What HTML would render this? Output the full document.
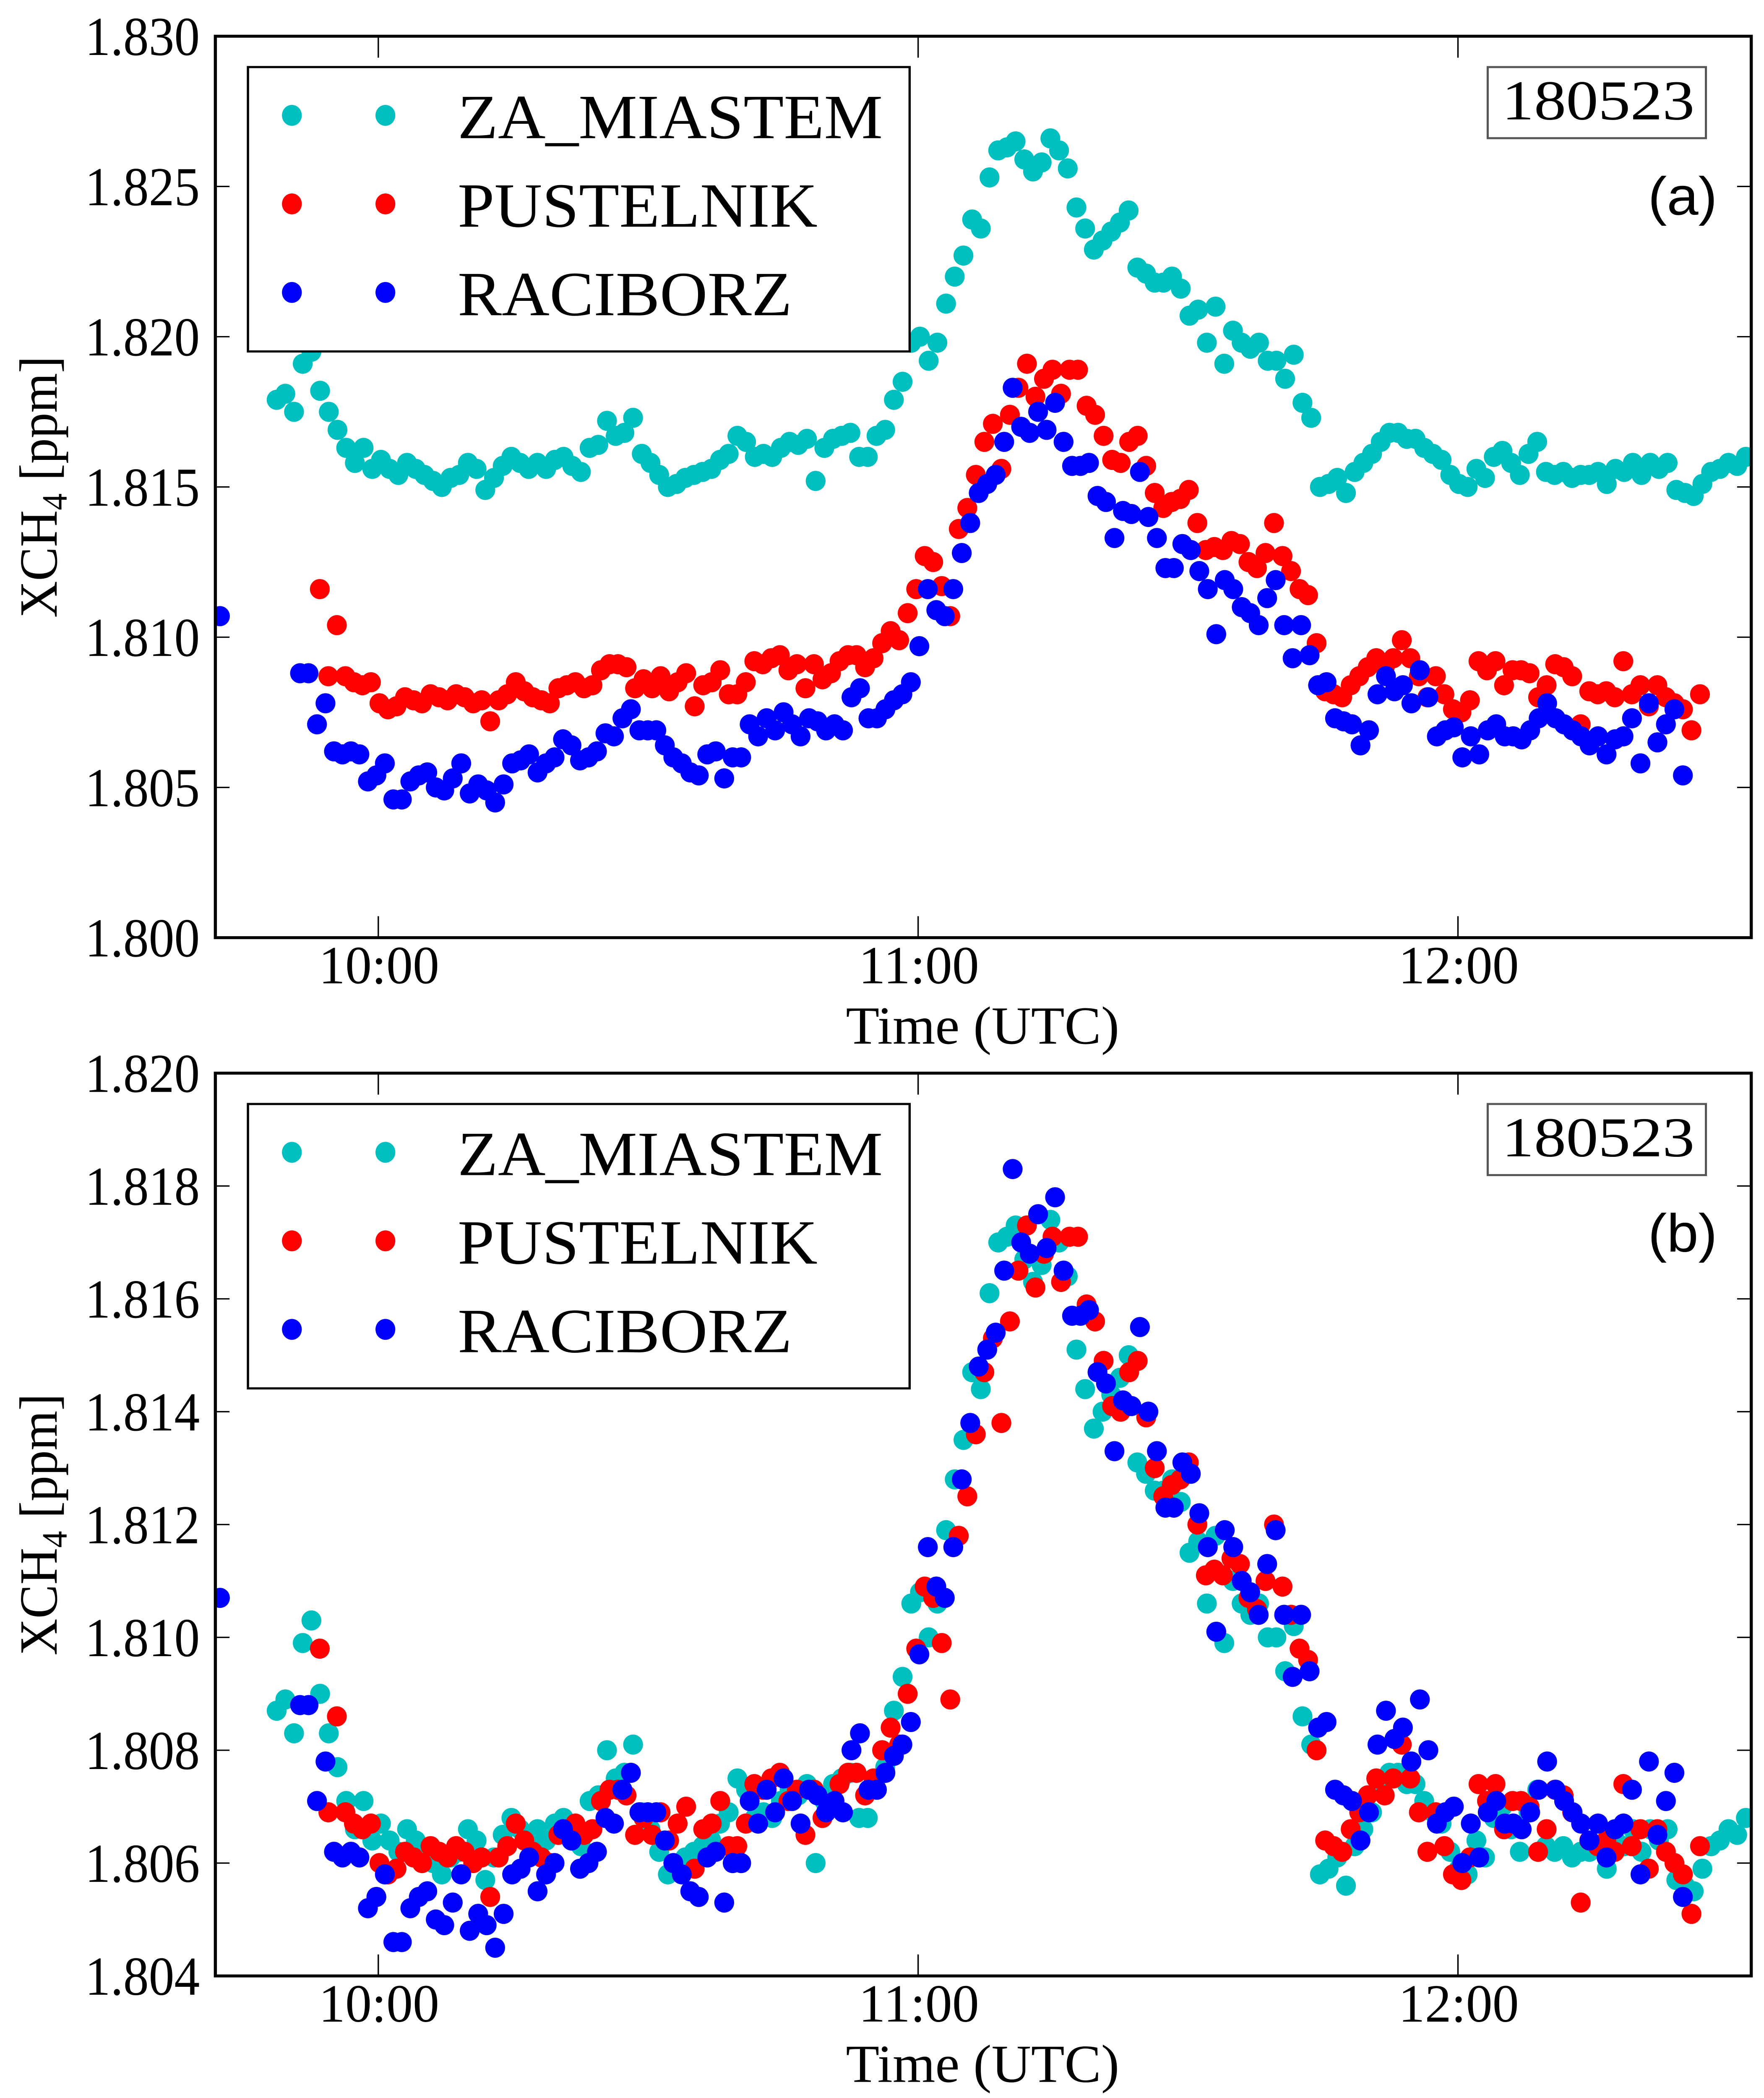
<!DOCTYPE html>
<html><head><meta charset="utf-8"><style>
html,body{margin:0;padding:0;background:#fff;width:100%;height:100%;overflow:hidden}
svg{display:block;width:100vw;height:100vh}
text{font-family:"Liberation Serif",serif;fill:#000}
</style></head><body>
<svg id="chart" viewBox="0 0 1245 1564" preserveAspectRatio="none" xmlns="http://www.w3.org/2000/svg"></svg>
<script>
// ---- data (ppm); times in minutes after 10:00 UTC ----
const zaValues=[1.8179,1.8181,1.8175,1.8191,1.8195,1.8182,1.8175,1.8169,1.8163,1.8158,1.8163,1.8156,1.8159,1.8156,1.8154,1.8158,1.8156,1.8154,1.8152,1.8150,1.8153,1.8154,1.8158,1.8156,1.8149,1.8153,1.8157,1.8160,1.8158,1.8156,1.8158,1.8156,1.8159,1.8160,1.8157,1.8155,1.8163,1.8164,1.8172,1.8167,1.8168,1.8173,1.8161,1.8158,1.8154,1.8150,1.8151,1.8153,1.8154,1.8155,1.8156,1.8159,1.8161,1.8167,1.8165,1.8160,1.8161,1.8160,1.8163,1.8165,1.8164,1.8166,1.8152,1.8163,1.8166,1.8167,1.8168,1.8160,1.8160,1.8167,1.8169,1.8179,1.8185,1.8198,1.8200,1.8192,1.8198,1.8211,1.8220,1.8227,1.8239,1.8236,1.8253,1.8262,1.8263,1.8265,1.8259,1.8255,1.8258,1.8266,1.8262,1.8256,1.8243,1.8236,1.8229,1.8232,1.8235,1.8238,1.8242,1.8223,1.8221,1.8218,1.8218,1.8220,1.8216,1.8207,1.8209,1.8198,1.8210,1.8191,1.8202,1.8198,1.8196,1.8198,1.8192,1.8192,1.8186,1.8194,1.8178,1.8173,1.8150,1.8151,1.8153,1.8148,1.8155,1.8158,1.8161,1.8165,1.8168,1.8168,1.8166,1.8166,1.8163,1.8161,1.8159,1.8154,1.8151,1.8150,1.8156,1.8153,1.8160,1.8162,1.8158,1.8154,1.8161,1.8165,1.8155,1.8154,1.8155,1.8153,1.8154,1.8154,1.8155,1.8151,1.8156,1.8155,1.8158,1.8154,1.8158,1.8156,1.8158,1.8149,1.8148,1.8147,1.8151,1.8155,1.8156,1.8158,1.8157,1.8160];
const pusValues=[1.8116,1.8087,1.8104,1.8087,1.8085,1.8084,1.8085,1.8078,1.8076,1.8077,1.8080,1.8079,1.8078,1.8081,1.8080,1.8079,1.8081,1.8080,1.8078,1.8079,1.8072,1.8079,1.8081,1.8085,1.8082,1.8080,1.8079,1.8078,1.8083,1.8084,1.8085,1.8083,1.8084,1.8089,1.8091,1.8091,1.8090,1.8083,1.8086,1.8083,1.8087,1.8082,1.8085,1.8088,1.8077,1.8084,1.8085,1.8089,1.8081,1.8081,1.8085,1.8092,1.8091,1.8093,1.8094,1.8089,1.8091,1.8083,1.8091,1.8086,1.8088,1.8092,1.8094,1.8094,1.8090,1.8093,1.8098,1.8102,1.8099,1.8108,1.8116,1.8127,1.8125,1.8117,1.8107,1.8136,1.8143,1.8154,1.8165,1.8171,1.8156,1.8174,1.8183,1.8191,1.8180,1.8186,1.8189,1.8181,1.8189,1.8189,1.8177,1.8174,1.8167,1.8159,1.8158,1.8165,1.8167,1.8157,1.8148,1.8143,1.8145,1.8146,1.8149,1.8138,1.8129,1.8130,1.8129,1.8132,1.8131,1.8125,1.8123,1.8128,1.8138,1.8127,1.8122,1.8116,1.8114,1.8098,1.8082,1.8081,1.8080,1.8084,1.8087,1.8090,1.8093,1.8090,1.8093,1.8099,1.8093,1.8087,1.8080,1.8087,1.8081,1.8076,1.8075,1.8079,1.8092,1.8089,1.8092,1.8084,1.8089,1.8089,1.8088,1.8080,1.8084,1.8091,1.8090,1.8087,1.8071,1.8082,1.8081,1.8082,1.8080,1.8092,1.8081,1.8084,1.8077,1.8084,1.8080,1.8078,1.8076,1.8069,1.8081];
const racValues=[1.8088,1.8088,1.8071,1.8078,1.8062,1.8061,1.8062,1.8061,1.8052,1.8054,1.8058,1.8046,1.8046,1.8052,1.8054,1.8055,1.8050,1.8049,1.8053,1.8058,1.8048,1.8051,1.8049,1.8045,1.8051,1.8058,1.8059,1.8061,1.8055,1.8058,1.8060,1.8066,1.8064,1.8059,1.8060,1.8062,1.8068,1.8067,1.8073,1.8076,1.8069,1.8069,1.8069,1.8064,1.8060,1.8058,1.8055,1.8054,1.8061,1.8062,1.8053,1.8060,1.8060,1.8071,1.8067,1.8073,1.8069,1.8075,1.8071,1.8067,1.8073,1.8072,1.8069,1.8071,1.8069,1.8080,1.8083,1.8073,1.8073,1.8076,1.8079,1.8081,1.8085,1.8097,1.8116,1.8109,1.8107,1.8116,1.8128,1.8138,1.8148,1.8151,1.8154,1.8165,1.8183,1.8170,1.8168,1.8175,1.8169,1.8178,1.8165,1.8157,1.8157,1.8158,1.8147,1.8145,1.8133,1.8142,1.8141,1.8155,1.8140,1.8133,1.8123,1.8123,1.8131,1.8129,1.8122,1.8116,1.8101,1.8119,1.8116,1.8110,1.8108,1.8104,1.8113,1.8119,1.8104,1.8093,1.8104,1.8094,1.8084,1.8085,1.8073,1.8072,1.8071,1.8064,1.8069,1.8081,1.8087,1.8082,1.8084,1.8078,1.8089,1.8080,1.8067,1.8069,1.8070,1.8060,1.8067,1.8061,1.8069,1.8071,1.8067,1.8067,1.8066,1.8069,1.8073,1.8078,1.8073,1.8071,1.8069,1.8067,1.8064,1.8067,1.8061,1.8066,1.8067,1.8073,1.8058,1.8078,1.8065,1.8071,1.8076,1.8054];
const racFirstTime=[-17.6];
const racFirstValue=[1.8107];
// sampling windows (minutes after 10:00): [first, last]
const zaWindow=[-11.3,152.0];
const pusWindow=[-6.5,146.9];
const racWindow=[-8.7,145.0];
// offsets applied in panel (b)
const zaOffsetB=-0.0092;
const pusOffsetB=-0.0018;
const racOffsetB=0.0;
const yTicksA=[1.800,1.805,1.810,1.815,1.820,1.825,1.830];
const yTicksB=[1.804,1.806,1.808,1.810,1.812,1.814,1.816,1.818,1.820];
const xTickMinutes=[0,60,120];
const xTickLabels=["10:00","11:00","12:00"];
const seriesNames=["ZA_MIASTEM","PUSTELNIK","RACIBORZ"];

const NS="http://www.w3.org/2000/svg";
const svg=document.getElementById('chart');
function el(tag,attrs,parent){const e=document.createElementNS(NS,tag);for(const k in attrs)e.setAttribute(k,attrs[k]);(parent||svg).appendChild(e);return e;}
const X0=152,X1=1236;
function xScale(m){return 267+m*(381/60);}
const colors=["#00BFBF","#FF0000","#0000FF"];
const RX=7.0,RY=7.5;
const legendWidths=[300,254,236];

function times(win,n){const a=[];for(let i=0;i<n;i++)a.push(win[0]+(win[1]-win[0])*i/(n-1));return a;}

function panel(id,top,bottom,ymin,ymax,ticks,offsets,label){
  const g=el('g',{});
  
  
  const yS=v=>bottom-(v-ymin)/(ymax-ymin)*(bottom-top);
  const clip=el('clipPath',{id:'clip'+id},g);
  el('rect',{x:X0,y:top,width:X1-X0,height:bottom-top},clip);
  const pts=el('g',{'clip-path':'url(#clip'+id+')'},g);
  
  
  const sets=[[zaValues,zaWindow,0,offsets[0]],[pusValues,pusWindow,1,offsets[1]],[racValues,racWindow,2,offsets[2]]];
  const drawPt=(t,v,ci,nm)=>{const c=el('ellipse',{cx:xScale(t),cy:yS(v),rx:RX,ry:RY,fill:colors[ci]},pts);
    
    };
  for(const [vals,win,ci,off] of sets){
    const ts=times(win,vals.length);
    vals.forEach((v,i)=>drawPt(ts[i],v+off,ci,seriesNames[ci].toLowerCase()+'-point'));
  }
  racFirstTime.forEach((t,i)=>drawPt(t,racFirstValue[i]+offsets[2],2,'raciborz-point'));
  const fr=el('rect',{x:X0,y:top,width:X1-X0,height:bottom-top,fill:'none',stroke:'#000','stroke-width':2.2},g);
  
  
  ticks.forEach(v=>{const y=yS(v);
    el('line',{x1:X0,x2:X0+10,y1:y,y2:y,stroke:'#000','stroke-width':1},g);
    el('line',{x1:X1,x2:X1-10,y1:y,y2:y,stroke:'#000','stroke-width':1},g);
    const t=el('text',{x:60,y:y+14,'font-size':41,textLength:81,lengthAdjust:'spacingAndGlyphs'},g);t.textContent=v.toFixed(3);
    
    });
  xTickMinutes.forEach((m,i)=>{const x=xScale(m);
    el('line',{x1:x,x2:x,y1:bottom,y2:bottom-16,stroke:'#000','stroke-width':1},g);
    el('line',{x1:x,x2:x,y1:top,y2:top+16,stroke:'#000','stroke-width':1},g);
    const t=el('text',{x:x-42,y:bottom+34,'font-size':40,textLength:85,lengthAdjust:'spacingAndGlyphs'},g);t.textContent=xTickLabels[i];
    
    });
  const xt=el('text',{x:597,y:bottom+79,'font-size':40,textLength:193,lengthAdjust:'spacingAndGlyphs'},g);xt.textContent='Time (UTC)';
  
  
  const cy=(top+bottom)/2;
  const yt=el('text',{x:40,y:cy,'text-anchor':'middle','font-size':38,transform:'rotate(-90 40 '+cy+')'},g);
  yt.innerHTML='XCH<tspan font-size="25" dy="7">4</tspan><tspan dy="-7"> [ppm]</tspan>';
  
  
  const lg=el('g',{},g);
  
  
  el('rect',{x:175,y:top+23,width:467,height:212,fill:'#fff',stroke:'#000','stroke-width':1.6},lg);
  seriesNames.forEach((n,i)=>{const y=top+59+i*66;
    el('ellipse',{cx:206,cy:y,rx:RX,ry:RY+0.3,fill:colors[i]},lg);
    el('ellipse',{cx:272,cy:y,rx:RX,ry:RY+0.3,fill:colors[i]},lg);
    const t=el('text',{x:323,y:y+17,'font-size':47,textLength:legendWidths[i],lengthAdjust:'spacingAndGlyphs'},lg);t.textContent=n;
    
    });
  const db=el('rect',{x:1050,y:top+23,width:154,height:53,fill:'#fff',stroke:'#555','stroke-width':1.5},g);
  
  
  const dt=el('text',{x:1060,y:top+62,'font-size':42,textLength:136,lengthAdjust:'spacingAndGlyphs'},g);dt.textContent='180523';
  
  
  const pl=el('text',{x:1212,y:top+133,'text-anchor':'end','font-size':40,style:'font-family:"Liberation Sans",sans-serif'},g);pl.textContent=label;
  
  
}
panel('a',27,699,1.800,1.830,yTicksA,[0,0,0],'(a)');
panel('b',800,1473,1.804,1.820,yTicksB,[zaOffsetB,pusOffsetB,racOffsetB],'(b)');
</script>
</body></html>
